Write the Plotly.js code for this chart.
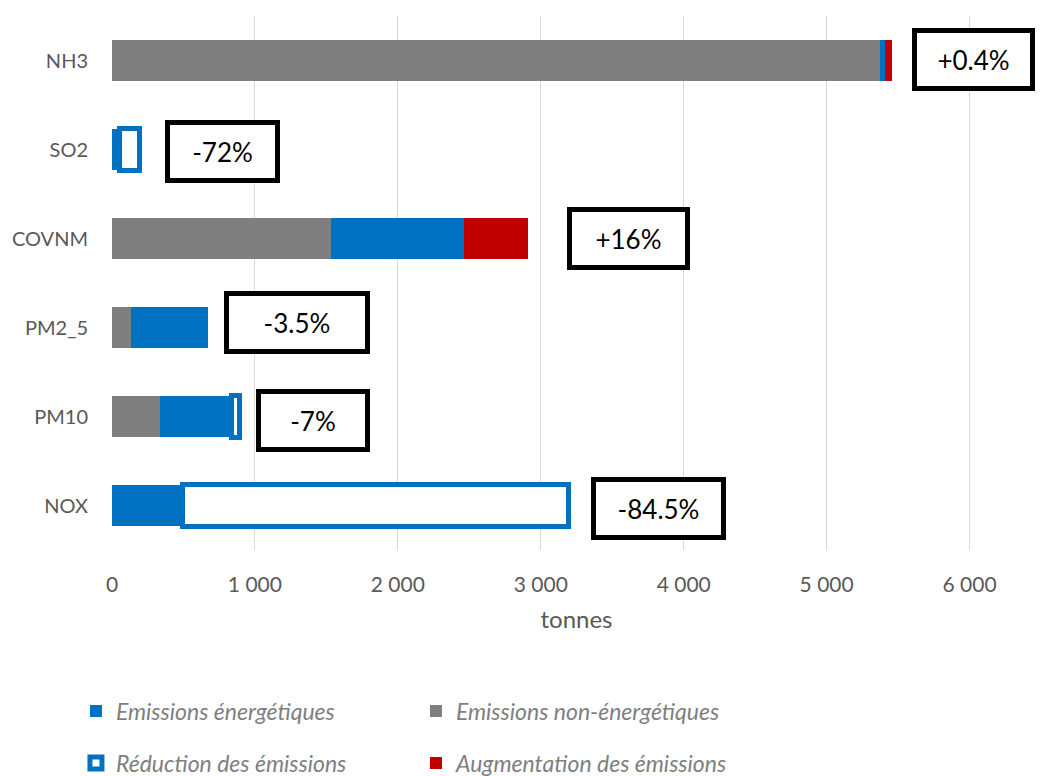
<!DOCTYPE html>
<html>
<head>
<meta charset="utf-8">
<script src="https://cdn.plot.ly/plotly-3.0.1.min.js"></script>
<style>html,body{margin:0;padding:0;background:#fff;}#chart{width:1041px;height:776px;}</style>
</head>
<body>
<div id="chart"></div>
<script>
// Categories (bottom to top)
const categories = ['NOX', 'PM10', 'PM2_5', 'COVNM', 'SO2', 'NH3'];
// Series values (tonnes)
const nonEnergy  = [0,    334, 136, 1532, 0,   5370];
const energy     = [493,  500, 520, 931,  53,  35];
const reduction  = [2701, 60,  0,   0,    136, 0];
const increase   = [0,    0,   0,   448,  0,   55];
// Change labels per category
const changeLabels = ['-84.5%', '-7%', '-3.5%', '+16%', '-72%', '+0.4%'];
const labelX       = [3827, 1406, 1294, 3614, 773, 6028];
const seriesNames = ['Emissions énergétiques', 'Emissions non-énergétiques', 'Réduction des émissions', 'Augmentation des émissions'];
const xTicks = [0, 1000, 2000, 3000, 4000, 5000, 6000];

const BLUE = '#0070c0', GRAY = '#7f7f7f', RED = '#c00000';
const FONT = 'Lato, "Open Sans", sans-serif';

const traces = [
  {type: 'bar', orientation: 'h', y: categories, x: nonEnergy, name: seriesNames[1],
   marker: {color: GRAY, line: {width: 0}}, legend: 'legend', legendrank: 2, hoverinfo: 'x+name'},
  {type: 'bar', orientation: 'h', y: categories, x: energy, name: seriesNames[0],
   marker: {color: BLUE, line: {width: 0}}, legend: 'legend', legendrank: 1, hoverinfo: 'x+name'},
  {type: 'bar', orientation: 'h', y: categories, x: reduction, name: seriesNames[2],
   marker: {color: '#ffffff', line: {color: BLUE, width: 5}}, legend: 'legend2', legendrank: 3, hoverinfo: 'x+name'},
  {type: 'bar', orientation: 'h', y: categories, x: increase, name: seriesNames[3],
   marker: {color: RED, line: {width: 0}}, legend: 'legend2', legendrank: 4, hoverinfo: 'x+name'}
];

const yShifts = [-3, -4, 5, 0, -2, 1];
const widths  = [125, 104, 136, 113, 105, 113];
const annotations = categories.map((c, i) => ({
  x: labelX[i], y: c, xref: 'x', yref: 'y', yshift: yShifts[i],
  text: changeLabels[i], showarrow: false,
  font: {family: FONT, size: 26, color: '#000'},
  bgcolor: '#ffffff', bordercolor: '#000', borderwidth: 5, borderpad: 0,
  width: widths[i], height: 53, align: 'center', valign: 'middle'
}));

const legendCommon = {
  orientation: 'h', xanchor: 'left', yanchor: 'middle',
  font: {family: FONT, size: 23, color: '#7f7f7f', style: 'italic'},
  entrywidth: 295, bgcolor: 'rgba(0,0,0,0)', traceorder: 'normal'
};

const layout = {
  width: 1041, height: 776,
  margin: {l: 112, r: 0, t: 16, b: 226, autoexpand: false},
  paper_bgcolor: '#fff', plot_bgcolor: '#fff',
  barmode: 'stack', bargap: 0.53,
  separators: ', ',
  showlegend: true,
  font: {family: FONT, color: '#595959'},
  xaxis: {
    range: [0, 6500], tickvals: xTicks, separatethousands: true, tickformat: ',d',
    showgrid: true, gridcolor: '#d9d9d9', gridwidth: 1, zeroline: false, showline: false,
    ticks: '', ticklabelstandoff: 20,
    tickfont: {family: FONT, size: 21, color: '#595959'},
    title: {text: 'tonnes', font: {family: FONT, size: 24, color: '#595959'}, standoff: 16},
    automargin: false, fixedrange: true
  },
  yaxis: {
    type: 'category', categoryorder: 'array', categoryarray: categories,
    showgrid: false, zeroline: false, showline: false, ticks: '', ticklabelstandoff: 23,
    tickfont: {family: FONT, size: 20, color: '#595959'}, automargin: false, fixedrange: true
  },
  legend: Object.assign({}, legendCommon, {x: -0.0388, y: -0.3015}),
  legend2: Object.assign({}, legendCommon, {x: -0.0388, y: -0.399}),
  annotations: annotations
};

Plotly.newPlot('chart', traces, layout, {displayModeBar: false, staticPlot: true});
</script>
</body>
</html>
